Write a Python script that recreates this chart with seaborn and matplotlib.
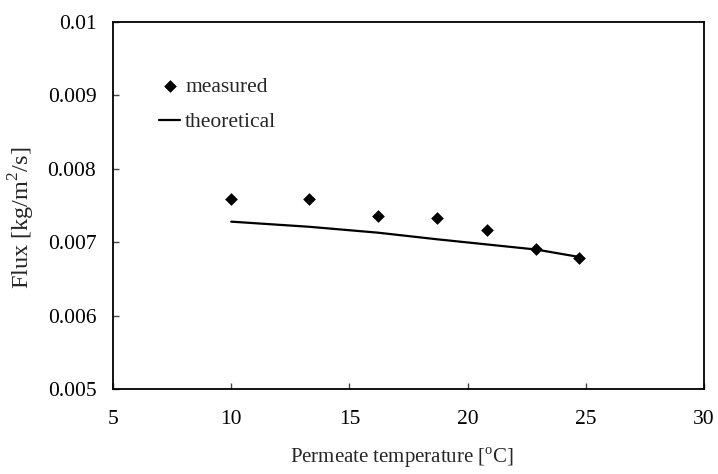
import matplotlib
matplotlib.use("Agg")
import matplotlib.pyplot as plt
import seaborn as sns
import pandas as pd
from matplotlib.ticker import FixedLocator, FixedFormatter

# Data
temp_measured = [10.0, 13.3, 16.2, 18.7, 20.8, 22.9, 24.7]
flux_measured = [0.00759, 0.00759, 0.007355, 0.007327, 0.007163, 0.006913, 0.00678]
temp_theory = [10.0, 13.3, 16.2, 18.7, 20.8, 22.9, 24.7]
flux_theory = [0.00728, 0.00721, 0.00713, 0.00704, 0.00697, 0.00690, 0.00680]
x_ticks = [5, 10, 15, 20, 25, 30]
x_tick_labels = ["5", "10", "15", "20", "25", "30"]
y_ticks = [0.005, 0.006, 0.007, 0.008, 0.009, 0.01]
y_tick_labels = ["0.005", "0.006", "0.007", "0.008", "0.009", "0.01"]

sns.set_style("white")
plt.rcParams["font.family"] = ["Liberation Serif", "DejaVu Serif"]
plt.rcParams["mathtext.fontset"] = "custom"
plt.rcParams["mathtext.rm"] = "Liberation Serif"

df_m = pd.DataFrame({"T": temp_measured, "F": flux_measured})
df_t = pd.DataFrame({"T": temp_theory, "F": flux_theory})

fig = plt.figure(figsize=(7.18, 4.74), dpi=100)
ax = fig.add_axes([113 / 718, 1 - 389 / 474, (704 - 113) / 718, (389 - 22) / 474])

sns.lineplot(data=df_t, x="T", y="F", ax=ax, color="black", linewidth=1.6, label="theoretical")
sns.scatterplot(data=df_m, x="T", y="F", ax=ax, color="black", marker="D", s=42,
                edgecolor="black", linewidth=0, label="measured", zorder=3)

ax.set_xlim(5, 30)
ax.set_ylim(0.005, 0.01)
ax.xaxis.set_major_locator(FixedLocator(x_ticks))
ax.xaxis.set_major_formatter(FixedFormatter(x_tick_labels))
ax.yaxis.set_major_locator(FixedLocator(y_ticks))
ax.yaxis.set_major_formatter(FixedFormatter(y_tick_labels))
ax.tick_params(axis="both", direction="in", length=4, width=1, color="#444444",
               labelsize=15.5, colors="black")
ax.tick_params(axis="y", pad=12)
ax.tick_params(axis="x", pad=15)
ax.tick_params(bottom=True, left=True)
for sp in ax.spines.values():
    sp.set_visible(True)
    sp.set_color("black")
    sp.set_linewidth(1.3)

ax.set_xlabel(r"Permeate temperature [$^{\rm o}$C]", fontsize=15)
ax.set_ylabel(r"Flux [kg/m$^2$/s]", fontsize=17.5)
ax.xaxis.set_label_coords(0.489, -0.188)
ax.xaxis.label.set_va("center")
ax.yaxis.set_label_coords(-0.154, 0.466)
ax.yaxis.label.set_va("center")

handles, labels = ax.get_legend_handles_labels()
order = [labels.index("measured"), labels.index("theoretical")]
leg = ax.legend([handles[i] for i in order], [labels[i] for i in order],
                loc="center left", bbox_to_anchor=(0.078, 0.775), frameon=False,
                fontsize=15.5, handlelength=0.98, handletextpad=0.23,
                borderpad=0, borderaxespad=0, labelspacing=0.69)

fig.savefig("out.png", dpi=100)
